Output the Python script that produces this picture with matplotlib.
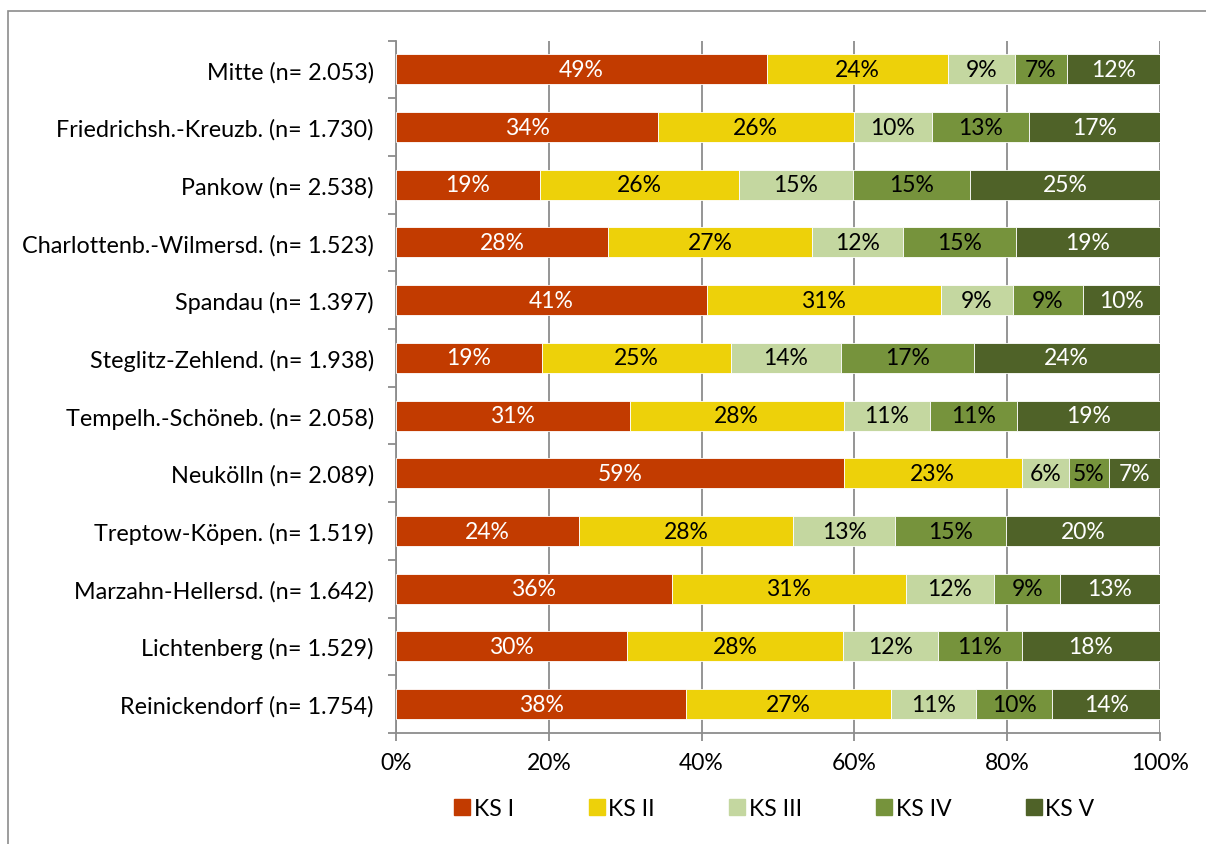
import matplotlib.pyplot as plt
from matplotlib.lines import Line2D
import numpy as np

plt.rcParams['font.family'] = ['Lato', 'DejaVu Sans']

# districts, top to bottom
districts = ['Mitte (n= 2.053)', 'Friedrichsh.-Kreuzb. (n= 1.730)', 'Pankow (n= 2.538)',
             'Charlottenb.-Wilmersd. (n= 1.523)', 'Spandau (n= 1.397)',
             'Steglitz-Zehlend. (n= 1.938)', 'Tempelh.-Schöneb. (n= 2.058)',
             'Neukölln (n= 2.089)', 'Treptow-Köpen. (n= 1.519)',
             'Marzahn-Hellersd. (n= 1.642)', 'Lichtenberg (n= 1.529)',
             'Reinickendorf (n= 1.754)']
classes = ['KS I', 'KS II', 'KS III', 'KS IV', 'KS V']

# shares in percent
ks1 = [48.6, 34.3, 18.8, 27.7, 40.7, 19.1, 30.6, 58.6, 24.0, 36.1, 30.2, 38.0]
ks2 = [23.6, 25.6, 26.1, 26.8, 30.6, 24.7, 28.0, 23.3, 28.0, 30.6, 28.3, 26.8]
ks3 = [8.8, 10.3, 14.9, 11.8, 9.4, 14.4, 11.3, 6.2, 13.3, 11.6, 12.4, 11.1]
ks4 = [6.8, 12.6, 15.3, 14.8, 9.2, 17.4, 11.4, 5.2, 14.6, 8.6, 11.0, 10.0]
ks5 = [12.2, 17.2, 24.9, 18.9, 10.1, 24.4, 18.7, 6.7, 20.1, 13.1, 18.1, 14.1]

colors = ['#C23B00', '#EDD10A', '#C4D7A0', '#76933C', '#4F6228']
text_colors = ['white', 'black', 'black', 'black', 'white']

fig = plt.figure(figsize=(12.06, 8.45), dpi=100)
ax = fig.add_axes([396 / 1206, 1 - 734 / 845, 764 / 1206, (734 - 41.5) / 845])

# outer frame line (top and left edges visible)
fig.add_artist(plt.Rectangle((8 / 1206, -0.1), 1.2, 1 - 12 / 845 + 0.1,
                             transform=fig.transFigure, fill=False,
                             edgecolor='#8c8c8c', linewidth=1.2))

y = np.arange(len(districts))
left = np.zeros(len(districts))
for series, col, tcol in zip([ks1, ks2, ks3, ks4, ks5], colors, text_colors):
    vals = np.array(series)
    ax.barh(y, vals, left=left, height=0.52, color=col, edgecolor='white',
            linewidth=0.6, zorder=3)
    for yi, l, v in zip(y, left, vals):
        ax.text(l + v / 2, yi, f'{v:.0f}%', ha='center', va='center',
                color=tcol, fontsize=16.5, zorder=4)
    left += vals

ax.set_xlim(0, 100)
ax.set_ylim(len(districts) - 0.5, -0.5)
ax.set_xticks(np.arange(0, 101, 20))
ax.set_xticklabels([f'{v}%' for v in range(0, 101, 20)], fontsize=16.5)
ax.set_yticks(y)
ax.set_yticklabels(districts, fontsize=16.8)
ax.set_yticks(np.arange(-0.5, len(districts), 1), minor=True)
ax.tick_params(axis='y', which='major', length=0, pad=16)
ax.tick_params(axis='y', which='minor', length=6, width=1.3, color='#8c8c8c')
ax.tick_params(axis='x', length=6, width=1.3, color='#8c8c8c', pad=8)
ax.xaxis.grid(True, color='#8c8c8c', linewidth=1.3, zorder=0)
ax.set_axisbelow(True)
for side in ['top', 'right']:
    ax.spines[side].set_visible(False)
for side in ['left', 'bottom']:
    ax.spines[side].set_color('#8c8c8c')
    ax.spines[side].set_linewidth(1.3)

handles = [Line2D([], [], marker='s', linestyle='none', markersize=11,
                  markerfacecolor=c, markeredgecolor=c) for c in colors]
fig.legend(handles, classes, loc='center', bbox_to_anchor=(775 / 1206, 1 - 810 / 845),
           ncol=5, frameon=False, fontsize=16.5, handlelength=0.6,
           handletextpad=0.2, columnspacing=3.3)

plt.savefig('out.png', dpi=100)
